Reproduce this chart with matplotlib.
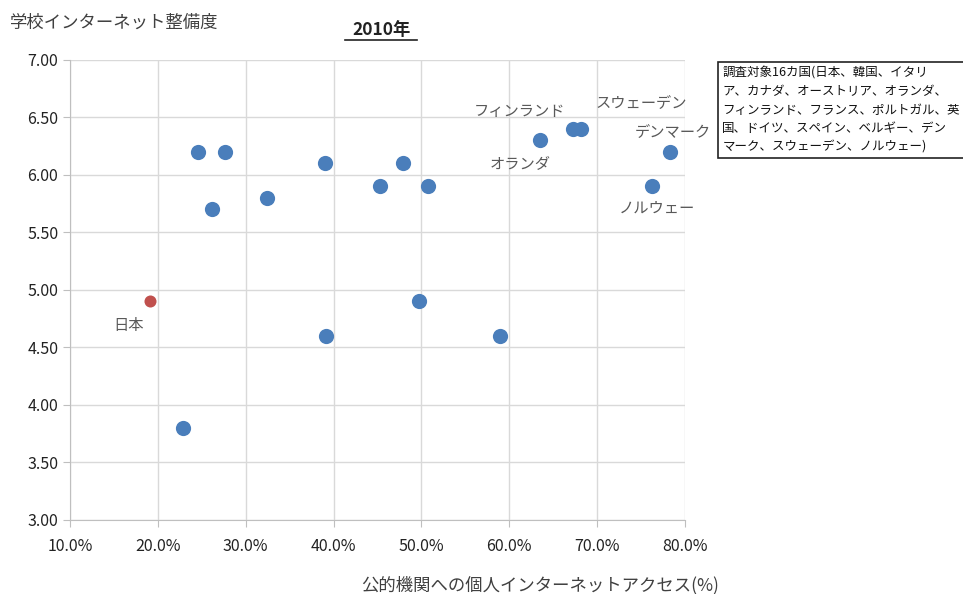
import matplotlib
matplotlib.use("Agg")
import matplotlib.pyplot as plt
from matplotlib.ticker import FuncFormatter, MultipleLocator

plt.rcParams['font.family'] = ['Noto Sans CJK JP', 'DejaVu Sans']

# 公的機関への個人インターネットアクセス(%) vs 学校インターネット整備度
others_x = [24.6, 27.6, 26.2, 32.4, 39.0, 39.1, 45.3, 47.9, 50.8, 49.7,
            59.0, 22.9, 63.5, 67.2, 68.2, 78.3, 76.3]
others_y = [6.2, 6.2, 5.7, 5.8, 6.1, 4.6, 5.9, 6.1, 5.9, 4.9,
            4.6, 3.8, 6.3, 6.4, 6.4, 6.2, 5.9]
japan_x = [19.1]
japan_y = [4.9]

names = ['日本', 'フィンランド', 'スウェーデン', 'デンマーク', 'オランダ', 'ノルウェー']
name_x = [16.7, 61.2, 75.0, 78.6, 61.2, 76.8]
name_y = [4.69, 6.55, 6.63, 6.38, 6.10, 5.71]

legend_lines = ['調査対象16カ国(日本、韓国、イタリ',
                'ア、カナダ、オーストリア、オランダ、',
                'フィンランド、フランス、ポルトガル、英',
                '国、ドイツ、スペイン、ベルギー、デン',
                'マーク、スウェーデン、ノルウェー)']

fig = plt.figure(figsize=(9.63, 5.94), dpi=100)
ax = fig.add_axes([0.0727, 0.1246, 0.6386, 0.7744])

ax.scatter(others_x, others_y, s=120, color='#4a7ebb', zorder=3, linewidths=0)
ax.scatter(japan_x, japan_y, s=75, color='#c0504d', zorder=3, linewidths=0)

for n, x, y in zip(names, name_x, name_y):
    ax.text(x, y, n, fontsize=11, color='#595959', ha='center', va='center')

ax.set_xlim(10, 80)
ax.set_ylim(3, 7)
ax.xaxis.set_major_locator(MultipleLocator(10))
ax.yaxis.set_major_locator(MultipleLocator(0.5))
ax.xaxis.set_major_formatter(FuncFormatter(lambda v, p: '%.1f%%' % v))
ax.yaxis.set_major_formatter(FuncFormatter(lambda v, p: '%.2f' % v))
ax.grid(True, color='#d9d9d9', linewidth=1)
ax.set_axisbelow(True)
for s in ['top', 'right']:
    ax.spines[s].set_visible(False)
for s in ['left', 'bottom']:
    ax.spines[s].set_color('#bfbfbf')
ax.tick_params(colors='#bfbfbf', labelcolor='#222222', labelsize=11.5, length=5)
ax.tick_params(axis='x', pad=8)

fig.text(0.010, 0.962, '学校インターネット整備度', fontsize=12.5, color='#404040', va='center')
fig.text(0.396, 0.950, '2010年', fontsize=12.5, fontweight='bold', color='#222222',
         ha='center', va='center')
fig.add_artist(plt.Line2D([0.358, 0.433], [0.932, 0.932], color='#222222', lw=1.2))
fig.text(0.561, 0.015, '公的機関への個人インターネットアクセス(%)', fontsize=12.5,
         color='#404040', ha='center', va='center')

fig.text(0.750, 0.888, '\n'.join(legend_lines), fontsize=9, color='#111111',
         va='top', ha='left', linespacing=1.55,
         bbox=dict(boxstyle='square,pad=0.35', fc='white', ec='#222222', lw=1.2))

fig.savefig('out.png', dpi=100)
